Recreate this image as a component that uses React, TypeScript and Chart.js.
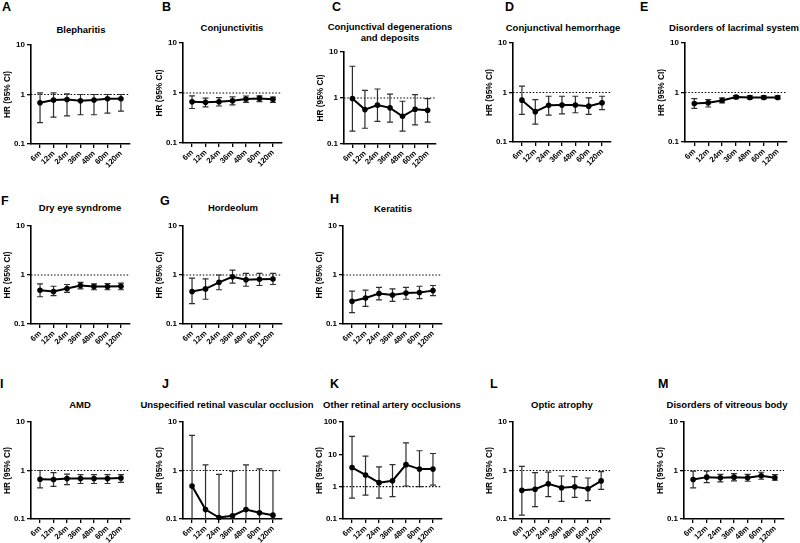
import { useEffect, useRef } from "react";
import { Chart, registerables } from "chart.js";

Chart.register(...registerables);

const FONT = '"Liberation Sans", Arial, Helvetica, sans-serif';

// Follow-up windows on the x axis
const timepoints = ["6m", "12m", "24m", "36m", "48m", "60m", "120m"];

// Log-axis tick values
const hrTicks = [0.1, 1, 10];
const hrTicksWide = [0.1, 1, 10, 100];

// Hazard ratios with 95% confidence limits per outcome
const blepharitisHR = [0.68, 0.77, 0.79, 0.75, 0.77, 0.82, 0.82];
const blepharitisLow = [0.27, 0.35, 0.37, 0.39, 0.39, 0.42, 0.46];
const blepharitisHigh = [1.08, 1.08, 1.03, 1.0, 1.0, 1.0, 1.0];

const conjunctivitisHR = [0.67, 0.65, 0.67, 0.7, 0.76, 0.78, 0.75];
const conjunctivitisLow = [0.49, 0.53, 0.55, 0.58, 0.65, 0.67, 0.65];
const conjunctivitisHigh = [0.88, 0.79, 0.81, 0.84, 0.87, 0.88, 0.83];

const degenerationsHR = [0.97, 0.56, 0.7, 0.61, 0.4, 0.57, 0.54];
const degenerationsLow = [0.19, 0.22, 0.31, 0.3, 0.19, 0.26, 0.3];
const degenerationsHigh = [4.9, 1.47, 1.57, 1.22, 0.85, 1.18, 0.97];

const hemorrhageHR = [0.7, 0.41, 0.55, 0.56, 0.56, 0.53, 0.62];
const hemorrhageLow = [0.36, 0.23, 0.35, 0.37, 0.39, 0.36, 0.45];
const hemorrhageHigh = [1.34, 0.72, 0.84, 0.84, 0.84, 0.78, 0.84];

const lacrimalHR = [0.6, 0.62, 0.69, 0.81, 0.79, 0.79, 0.79];
const lacrimalLow = [0.48, 0.51, 0.62, 0.75, 0.74, 0.74, 0.74];
const lacrimalHigh = [0.75, 0.72, 0.78, 0.87, 0.86, 0.86, 0.86];

const dryEyeHR = [0.49, 0.46, 0.53, 0.61, 0.58, 0.58, 0.59];
const dryEyeLow = [0.36, 0.38, 0.44, 0.52, 0.5, 0.5, 0.5];
const dryEyeHigh = [0.66, 0.59, 0.64, 0.71, 0.66, 0.67, 0.68];

const hordeolumHR = [0.46, 0.52, 0.71, 0.92, 0.8, 0.82, 0.83];
const hordeolumLow = [0.26, 0.32, 0.5, 0.68, 0.59, 0.61, 0.64];
const hordeolumHigh = [0.86, 0.83, 1.0, 1.26, 1.08, 1.08, 1.08];

const keratitisHR = [0.29, 0.34, 0.42, 0.39, 0.43, 0.44, 0.48];
const keratitisLow = [0.17, 0.23, 0.31, 0.29, 0.32, 0.33, 0.38];
const keratitisHigh = [0.47, 0.49, 0.56, 0.52, 0.56, 0.59, 0.61];

const amdHR = [0.66, 0.65, 0.68, 0.68, 0.68, 0.68, 0.7];
const amdLow = [0.44, 0.47, 0.51, 0.54, 0.54, 0.54, 0.57];
const amdHigh = [1.0, 0.9, 0.84, 0.82, 0.82, 0.82, 0.82];

// lower limits fall below the 0.1 floor of the axis
const vascularHR = [0.48, 0.157, 0.107, 0.117, 0.157, 0.135, 0.12];
const vascularLow = [0.01, 0.01, 0.01, 0.01, 0.01, 0.01, 0.01];
const vascularHigh = [5.3, 1.3, 0.83, 0.97, 1.3, 1.08, 0.99];

const arteryHR = [3.9, 2.3, 1.33, 1.53, 4.8, 3.5, 3.5];
const arteryLow = [0.44, 0.55, 0.44, 0.49, 1.05, 1.0, 1.12];
const arteryHigh = [36, 8.8, 4.1, 4.8, 22.7, 12.9, 10.6];

const opticHR = [0.39, 0.41, 0.53, 0.44, 0.46, 0.42, 0.61];
const opticLow = [0.12, 0.18, 0.29, 0.23, 0.28, 0.24, 0.41];
const opticHigh = [1.22, 0.9, 0.93, 0.77, 0.75, 0.7, 0.95];

const vitreousHR = [0.65, 0.73, 0.71, 0.73, 0.71, 0.78, 0.71];
const vitreousLow = [0.44, 0.56, 0.58, 0.61, 0.6, 0.66, 0.63];
const vitreousHigh = [0.97, 0.97, 0.83, 0.86, 0.83, 0.92, 0.82];

type PanelSpec = {
  letter: string;
  title: string[];
  hr: number[];
  low: number[];
  high: number[];
  yMax: number;
  yTicks: number[];
};

const panels: PanelSpec[] = [
  { letter: "A", title: ["Blepharitis"], hr: blepharitisHR, low: blepharitisLow, high: blepharitisHigh, yMax: 10, yTicks: hrTicks },
  { letter: "B", title: ["Conjunctivitis"], hr: conjunctivitisHR, low: conjunctivitisLow, high: conjunctivitisHigh, yMax: 10, yTicks: hrTicks },
  { letter: "C", title: ["Conjunctival degenerations", "and deposits"], hr: degenerationsHR, low: degenerationsLow, high: degenerationsHigh, yMax: 10, yTicks: hrTicks },
  { letter: "D", title: ["Conjunctival hemorrhage"], hr: hemorrhageHR, low: hemorrhageLow, high: hemorrhageHigh, yMax: 10, yTicks: hrTicks },
  { letter: "E", title: ["Disorders of lacrimal system"], hr: lacrimalHR, low: lacrimalLow, high: lacrimalHigh, yMax: 10, yTicks: hrTicks },
  { letter: "F", title: ["Dry eye syndrome"], hr: dryEyeHR, low: dryEyeLow, high: dryEyeHigh, yMax: 10, yTicks: hrTicks },
  { letter: "G", title: ["Hordeolum"], hr: hordeolumHR, low: hordeolumLow, high: hordeolumHigh, yMax: 10, yTicks: hrTicks },
  { letter: "H", title: ["Keratitis"], hr: keratitisHR, low: keratitisLow, high: keratitisHigh, yMax: 10, yTicks: hrTicks },
  { letter: "I", title: ["AMD"], hr: amdHR, low: amdLow, high: amdHigh, yMax: 10, yTicks: hrTicks },
  { letter: "J", title: ["Unspecified retinal vascular occlusion"], hr: vascularHR, low: vascularLow, high: vascularHigh, yMax: 10, yTicks: hrTicks },
  { letter: "K", title: ["Other retinal artery occlusions"], hr: arteryHR, low: arteryLow, high: arteryHigh, yMax: 100, yTicks: hrTicksWide },
  { letter: "L", title: ["Optic atrophy"], hr: opticHR, low: opticLow, high: opticHigh, yMax: 10, yTicks: hrTicks },
  { letter: "M", title: ["Disorders of vitreous body"], hr: vitreousHR, low: vitreousLow, high: vitreousHigh, yMax: 10, yTicks: hrTicks },
];

// Plot-area rectangles and label anchors for each panel (page pixels)
type Frame = {
  left: number; right: number; top: number; bottom: number;
  letterX: number; letterY: number; titleX: number; titleY: number;
};

const frames: Record<string, Frame> = {
  A: { left: 31, right: 130, top: 45, bottom: 144, letterX: 2, letterY: 3, titleX: 81, titleY: 30 },
  B: { left: 183, right: 282, top: 43, bottom: 143, letterX: 162, letterY: 3, titleX: 232, titleY: 28 },
  C: { left: 344, right: 436, top: 52, bottom: 144, letterX: 332, letterY: 3, titleX: 390, titleY: 27 },
  D: { left: 513, right: 611, top: 43, bottom: 142, letterX: 505, letterY: 3, titleX: 563, titleY: 28 },
  E: { left: 685, right: 787, top: 43, bottom: 142, letterX: 640, letterY: 3, titleX: 734, titleY: 28 },
  F: { left: 31, right: 130, top: 226, bottom: 324, letterX: 1, letterY: 197, titleX: 80, titleY: 208 },
  G: { left: 183, right: 282, top: 226, bottom: 324, letterX: 160, letterY: 197, titleX: 233, titleY: 208 },
  H: { left: 343, right: 442, top: 226, bottom: 324, letterX: 330, letterY: 195, titleX: 393, titleY: 209 },
  I: { left: 31, right: 130, top: 422, bottom: 519, letterX: 0, letterY: 380, titleX: 80, titleY: 405 },
  J: { left: 183, right: 282, top: 422, bottom: 519, letterX: 162, letterY: 380, titleX: 227, titleY: 405 },
  K: { left: 343, right: 442, top: 422, bottom: 519, letterX: 330, letterY: 380, titleX: 392, titleY: 405 },
  L: { left: 513, right: 610, top: 422, bottom: 519, letterX: 490, letterY: 380, titleX: 562, titleY: 405 },
  M: { left: 684, right: 784, top: 422, bottom: 519, letterX: 658, letterY: 380, titleX: 727, titleY: 405 },
};

const Y_AXIS_W = 31;
const X_AXIS_H = 30;
const PAD_TOP = 8;
const PAD_RIGHT = 6;

// Draws the dotted HR = 1 reference and the confidence-interval whiskers
const hrDecor = {
  id: "hrDecor",
  beforeDatasetsDraw(chart: any, _args: any, opts: any) {
    const { ctx, chartArea, scales } = chart;
    const x = scales.x;
    const y = scales.y;
    const ref = y.getPixelForValue(1);

    ctx.save();
    ctx.strokeStyle = "#000";
    ctx.lineWidth = 1.2;
    ctx.setLineDash([1.5, 1.8]);
    ctx.beginPath();
    ctx.moveTo(chartArea.left, ref);
    ctx.lineTo(chartArea.right, ref);
    ctx.stroke();
    ctx.restore();

    const low: number[] = opts.low || [];
    const high: number[] = opts.high || [];
    ctx.save();
    ctx.beginPath();
    ctx.rect(0, 0, chart.width, chartArea.bottom);
    ctx.clip();
    ctx.strokeStyle = "#2e2e2e";
    ctx.lineWidth = 1.2;
    const cap = 3;
    for (let i = 0; i < low.length; i++) {
      const xp = x.getPixelForValue(i);
      const yl = y.getPixelForValue(low[i]);
      const yh = y.getPixelForValue(high[i]);
      ctx.beginPath();
      ctx.moveTo(xp, yl);
      ctx.lineTo(xp, yh);
      ctx.moveTo(xp - cap, yl);
      ctx.lineTo(xp + cap, yl);
      ctx.moveTo(xp - cap, yh);
      ctx.lineTo(xp + cap, yh);
      ctx.stroke();
    }
    ctx.restore();
  },
};

function Panel({ spec, frame }: { spec: PanelSpec; frame: Frame }) {
  const ref = useRef<HTMLCanvasElement>(null);
  const w = frame.right - frame.left + Y_AXIS_W + PAD_RIGHT;
  const h = frame.bottom - frame.top + PAD_TOP + X_AXIS_H;

  useEffect(() => {
    if (!ref.current) return;
    const yTickFont = { family: FONT, size: 8, weight: "bold" as const };
    const xTickFont = { family: FONT, size: 7.8, weight: "bold" as const };
    const chart = new Chart(ref.current, {
      type: "line",
      data: {
        datasets: [
          {
            data: spec.hr.map((v, i) => ({ x: i, y: v })),
            borderColor: "#000",
            borderWidth: 2,
            pointRadius: 2.8,
            pointHoverRadius: 2.8,
            pointBackgroundColor: "#000",
            pointBorderWidth: 0,
            tension: 0,
            clip: false as any,
          },
        ],
      },
      options: {
        responsive: false,
        animation: false,
        events: [],
        layout: { padding: { left: 0, top: PAD_TOP, right: PAD_RIGHT, bottom: 0 } },
        plugins: {
          legend: { display: false },
          tooltip: { enabled: false },
          hrDecor: { low: spec.low, high: spec.high },
        } as any,
        scales: {
          x: {
            type: "linear",
            min: -0.67,
            max: 6.67,
            afterBuildTicks: (s: any) => {
              s.ticks = timepoints.map((_, i) => ({ value: i }));
            },
            afterFit: (s: any) => {
              s.height = X_AXIS_H;
            },
            ticks: {
              autoSkip: false,
              minRotation: 45,
              maxRotation: 45,
              padding: 1,
              color: "#000",
              font: xTickFont,
              callback: (v: any) => timepoints[v as number] ?? "",
            },
            grid: { drawOnChartArea: false, drawTicks: true, tickLength: 4, color: "#000", lineWidth: 1.3 },
            border: { color: "#000", width: 1.6 },
          },
          y: {
            type: "logarithmic",
            min: 0.1,
            max: spec.yMax,
            afterBuildTicks: (s: any) => {
              s.ticks = spec.yTicks.map((v) => ({ value: v }));
            },
            afterFit: (s: any) => {
              s.width = Y_AXIS_W;
            },
            ticks: {
              padding: 2,
              color: "#000",
              font: yTickFont,
              callback: (v: any) => String(v),
            },
            grid: { drawOnChartArea: false, drawTicks: true, tickLength: 4, color: "#000", lineWidth: 1.3 },
            border: { color: "#000", width: 1.6 },
            title: {
              display: true,
              text: "HR (95% CI)",
              color: "#000",
              font: { family: FONT, size: 8.3, weight: "bold" },
              padding: { top: 2.5, bottom: 0 },
            },
          },
        },
      },
      plugins: [hrDecor],
    });
    return () => chart.destroy();
  }, [spec]);

  return (
    <>
      <canvas
        ref={ref}
        width={w}
        height={h}
        style={{ position: "absolute", left: frame.left - Y_AXIS_W, top: frame.top - PAD_TOP, width: w, height: h }}
      />
      <div
        style={{
          position: "absolute",
          left: frame.letterX,
          top: frame.letterY - 1.6,
          font: `bold 12.5px ${FONT}`,
          lineHeight: "12.5px",
          color: "#000",
        }}
      >
        {spec.letter}
      </div>
      {spec.title.map((line, k) => (
        <div
          key={k}
          style={{
            position: "absolute",
            left: frame.titleX,
            top: frame.titleY - 4.6 + k * 10.5,
            transform: "translateX(-50%)",
            whiteSpace: "nowrap",
            font: `bold 9.5px ${FONT}`,
            lineHeight: "9.5px",
            color: "#000",
          }}
        >
          {line}
        </div>
      ))}
    </>
  );
}

export default function App() {
  return (
    <div style={{ position: "absolute", left: 0, top: 0, width: 800, height: 543, background: "#fff", overflow: "hidden" }}>
      {panels.map((p) => (
        <Panel key={p.letter} spec={p} frame={frames[p.letter]} />
      ))}
    </div>
  );
}
